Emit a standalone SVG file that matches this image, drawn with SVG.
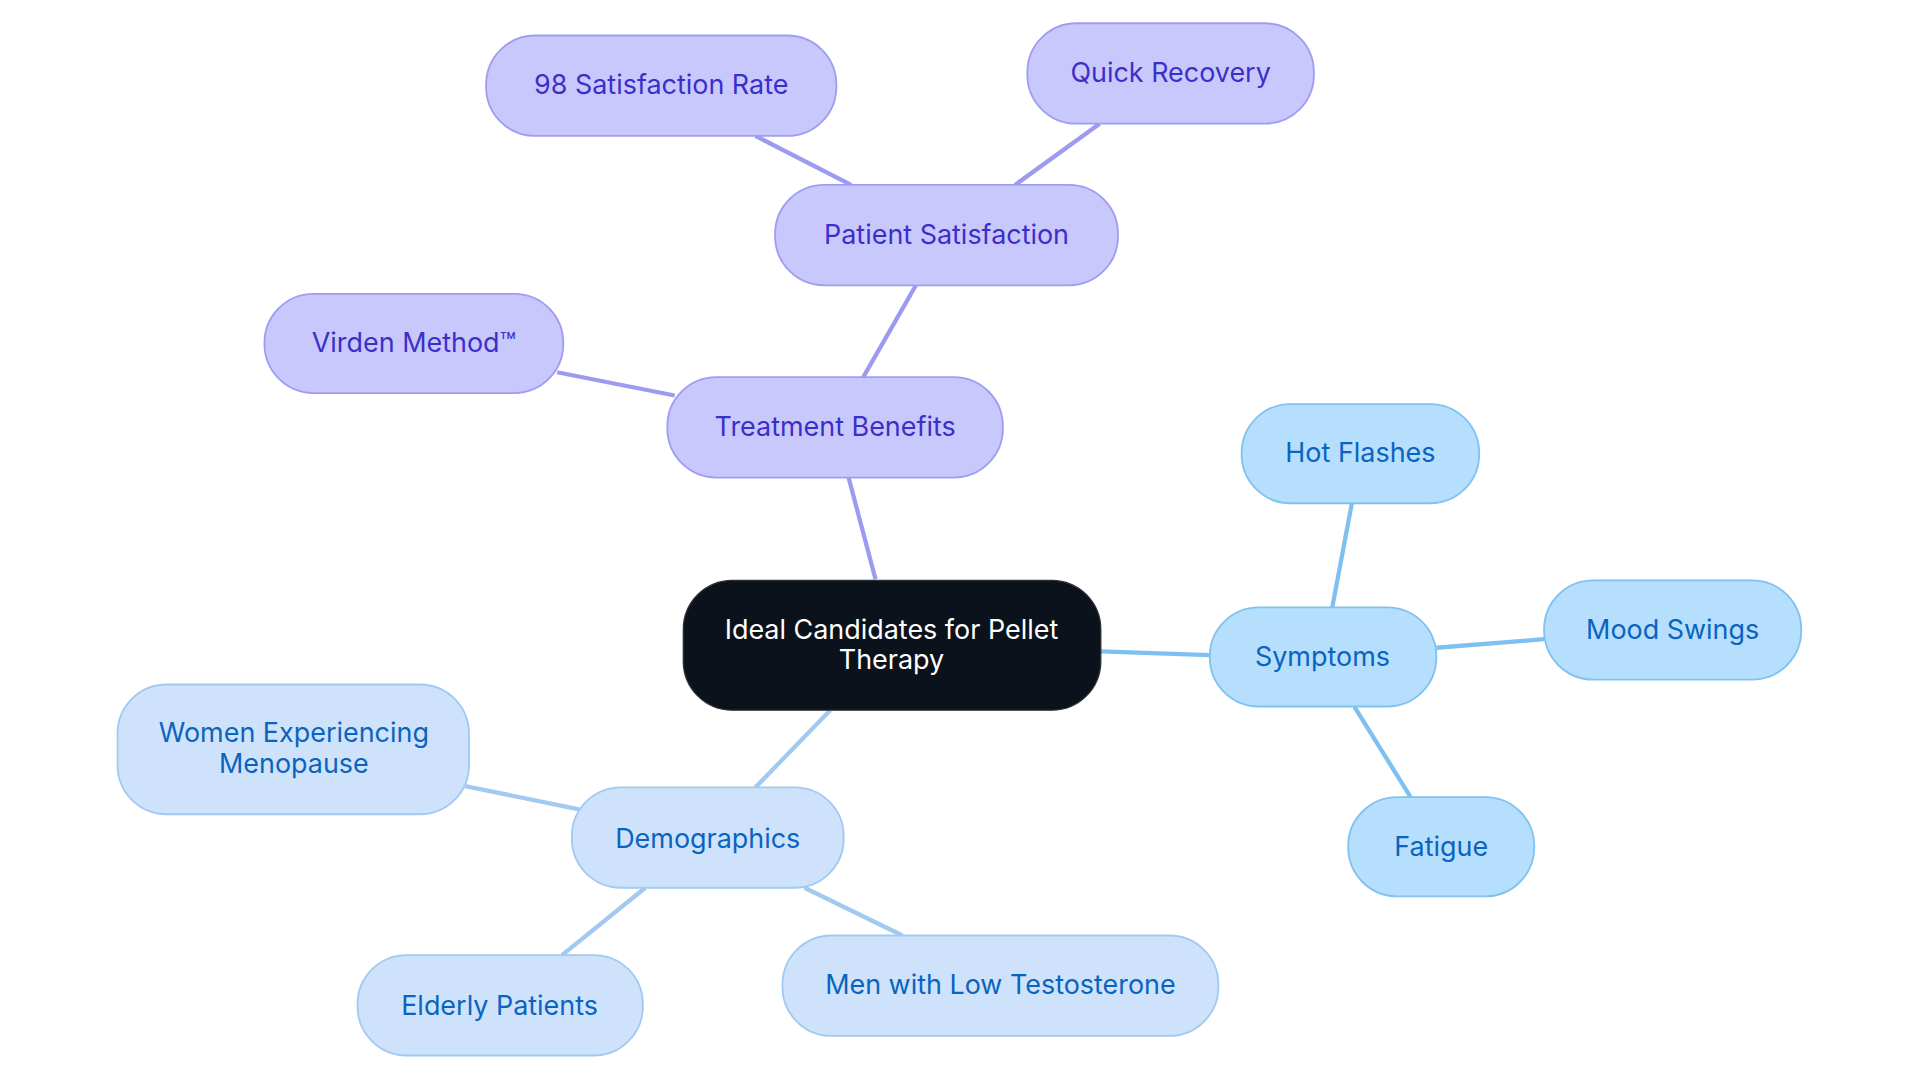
<svg xmlns="http://www.w3.org/2000/svg" width="1920" height="1083" viewBox="0 0 1920 1083">
<style>
text{font-family:Inter,"Noto Sans",sans-serif;font-size:22px;text-anchor:middle;dominant-baseline:central}
.p rect{fill:#c9c8fd;stroke:#9f9df2;stroke-width:1.5}.p text{fill:#3b2fc9}
.s rect{fill:#b5dffc;stroke:#80c2f0;stroke-width:1.5}.s text{fill:#0b63c0}
.d rect{fill:#cee3fb;stroke:#a2c9f2;stroke-width:1.5}.d text{fill:#0b63c0}
.ep{stroke:#9d9bf0;stroke-width:3.5;fill:none}.es{stroke:#7ec0f0;stroke-width:3.5;fill:none}.ed{stroke:#a2c9f2;stroke-width:3.5;fill:none}
</style>
<rect width="1920" height="1083" fill="#fff"/>
<g transform="scale(1.2245)">
<g id="connectors">
<path class="ep" d="M715 473L693 390M705 308L748 233M695 151L617 111M829 151L898 101M551 323L455 304"/>
<path class="es" d="M899 532L988 535M1088 496L1104 411M1173 529L1261 522M1106 577L1152 651"/>
<path class="ed" d="M678 580L617 643M473 661L380 642M527 725L459 780M657 725L737 764"/>
</g>
<g id="center"><rect x="558" y="474" width="341" height="106" rx="40" fill="#0c121b" stroke="#2a2f36"/><text x="728" y="514" fill="#fff">Ideal Candidates for Pellet</text><text x="728" y="538" fill="#fff">Therapy</text></g>
<g id="tb" class="p"><rect x="545" y="308" width="274" height="82" rx="40"/><text x="682" y="348">Treatment Benefits</text></g>
<g id="ps" class="p"><rect x="633" y="151" width="280" height="82" rx="40"/><text x="773" y="191">Patient Satisfaction</text></g>
<g id="sr" class="p"><rect x="397" y="29" width="286" height="82" rx="40"/><text x="540" y="69">98 Satisfaction Rate</text></g>
<g id="qr" class="p"><rect x="839" y="19" width="234" height="82" rx="40"/><text x="956" y="59">Quick Recovery</text></g>
<g id="vm" class="p"><rect x="216" y="240" width="244" height="81" rx="40"/><text x="338" y="279">Virden Method™</text></g>
<g id="sy" class="s"><rect x="988" y="496" width="185" height="81" rx="40"/><text x="1080" y="536">Symptoms</text></g>
<g id="hf" class="s"><rect x="1014" y="330" width="194" height="81" rx="40"/><text x="1111" y="369">Hot Flashes</text></g>
<g id="ms" class="s"><rect x="1261" y="474" width="210" height="81" rx="40"/><text x="1366" y="514">Mood Swings</text></g>
<g id="fa" class="s"><rect x="1101" y="651" width="152" height="81" rx="40"/><text x="1177" y="691">Fatigue</text></g>
<g id="de" class="d"><rect x="467" y="643" width="222" height="82" rx="40"/><text x="578" y="684">Demographics</text></g>
<g id="wm" class="d"><rect x="96" y="559" width="287" height="106" rx="40"/><text x="240" y="598">Women Experiencing</text><text x="240" y="623">Menopause</text></g>
<g id="ep" class="d"><rect x="292" y="780" width="233" height="82" rx="40"/><text x="408" y="821">Elderly Patients</text></g>
<g id="mt" class="d"><rect x="639" y="764" width="356" height="82" rx="40"/><text x="817" y="804">Men with Low Testosterone</text></g>
</g>
</svg>
